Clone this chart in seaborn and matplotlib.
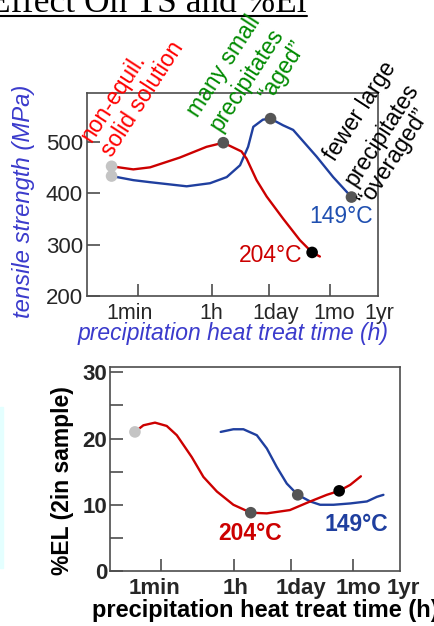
import matplotlib
matplotlib.use("Agg")
import matplotlib.pyplot as plt
import numpy as np
import pandas as pd
import seaborn as sns
from matplotlib.lines import Line2D
from matplotlib.patches import Rectangle
from matplotlib.ticker import NullLocator, FixedLocator
from matplotlib.transforms import ScaledTranslation

sns.set_theme(style="white")
plt.rcParams["font.family"] = ["Liberation Sans", "DejaVu Sans"]

W, H, DPI = 434, 626, 100

# time axis (hours)
tick_hours = [1 / 60, 1, 24, 720, 8760]
tick_names = ["1min", "1h", "1day", "1mo", "1yr"]

# tensile strength vs. ageing time
ts149_time = [0.0039, 0.013, 0.033, 0.25, 0.91, 2.3, 4.8, 7.5, 10, 17, 26, 52, 91, 333, 834, 2300]
ts149_mpa = [434, 426, 422, 414, 420, 432, 455, 491, 530, 544, 546, 533, 524, 472, 432, 393]
ts204_time = [0.0039, 0.013, 0.033, 0.17, 0.75, 1.9, 5.2, 6.9, 12, 21, 52, 132, 260, 400]
ts204_mpa = [453, 447, 451, 470, 491, 499, 482, 468, 426, 394, 351, 309, 285, 277]

ts_pt_time = [0.0039, 0.0039, 1.9, 26, 2300, 260]
ts_pt_mpa = [453, 434, 499, 546, 393, 285]
ts_pt_state = ["solution", "solution", "aged", "aged", "overaged", "end"]

# elongation vs. ageing time
el204_time = [0.0040, 0.0064, 0.0122, 0.0234, 0.041, 0.094, 0.18, 0.38, 0.95, 2.5,
              6.1, 22, 68, 171, 340, 627, 1137]
el204_pct = [21.0, 22.0, 22.4, 21.9, 20.5, 17.2, 14.2, 12.0, 10.0, 8.8,
             8.7, 9.2, 10.5, 11.5, 12.1, 13.0, 14.3]
el149_time = [0.47, 0.95, 1.66, 3.5, 6.1, 10.6, 18.5, 34, 68, 118, 248, 627, 1590, 2770, 3980]
el149_pct = [21.0, 21.4, 21.4, 20.5, 18.5, 15.7, 13.2, 11.5, 10.5, 10.0, 10.0, 10.2, 10.5, 11.2, 11.5]

el_pt_time = [0.0040, 2.5, 34, 340]
el_pt_pct = [21.0, 8.8, 11.5, 12.1]
el_pt_state = ["solution", "aged", "aged", "end"]

RED = "#cc0000"
BLUE = "#1f3f9f"
LABEL_BLUE = "#3b3bcc"
GREEN = "#008a00"
SPINE = "#4d4d4d"
state_palette = {"solution": "#c4c4c4", "aged": "#555555", "overaged": "#555555", "end": "#000000"}

fig = plt.figure(figsize=(W / DPI, H / DPI), dpi=DPI)


def px_box(left, top, right, bottom):
    return [left / W, 1 - bottom / H, (right - left) / W, (bottom - top) / H]


ax1 = fig.add_axes(px_box(87, 93, 378, 296))
ax2 = fig.add_axes(px_box(110, 367, 400, 571))

# --- tensile strength panel
ts_lines = pd.concat([
    pd.DataFrame({"time": ts149_time, "val": ts149_mpa, "temp": "149"}),
    pd.DataFrame({"time": ts204_time, "val": ts204_mpa, "temp": "204"}),
])
sns.lineplot(data=ts_lines, x="time", y="val", hue="temp", palette={"149": BLUE, "204": RED},
             lw=1.7, legend=False, ax=ax1, estimator=None, sort=False)
ts_pts = pd.DataFrame({"time": ts_pt_time, "val": ts_pt_mpa, "state": ts_pt_state})
sns.scatterplot(data=ts_pts, x="time", y="val", hue="state", palette=state_palette,
                s=70, linewidth=0, legend=False, ax=ax1, zorder=5)

# --- elongation panel
el_lines = pd.concat([
    pd.DataFrame({"time": el149_time, "val": el149_pct, "temp": "149"}),
    pd.DataFrame({"time": el204_time, "val": el204_pct, "temp": "204"}),
])
sns.lineplot(data=el_lines, x="time", y="val", hue="temp", palette={"149": BLUE, "204": RED},
             lw=1.7, legend=False, ax=ax2, estimator=None, sort=False)
el_pts = pd.DataFrame({"time": el_pt_time, "val": el_pt_pct, "state": el_pt_state})
sns.scatterplot(data=el_pts, x="time", y="val", hue="state", palette=state_palette,
                s=70, linewidth=0, legend=False, ax=ax2, zorder=5)

for ax in (ax1, ax2):
    ax.set_xscale("log")
    ax.set_xlim(1e-3, 1e4)
    ax.xaxis.set_minor_locator(NullLocator())
    ax.set_xticks(tick_hours)
    ax.set_xlabel("")
    ax.set_ylabel("")
    for sp in ax.spines.values():
        sp.set_color(SPINE)
        sp.set_linewidth(1.2)
    ax.tick_params(axis="both", which="both", direction="in", length=9, width=1.2,
                   color=SPINE, left=True, bottom=True, top=False, right=False)
    ax.xaxis.get_major_ticks()[-1].tick1line.set_visible(False)

ax1.set_ylim(200, 596)
ax1.set_yticks([200, 300, 400, 500])
ax1.set_xticklabels(tick_names, fontsize=15.5)
ax1.tick_params(axis="y", labelsize=16, pad=3)
ax1.tick_params(axis="x", pad=5)

ax2.set_ylim(0, 30.8)
ax2.set_yticks([0, 10, 20, 30])
ax2.yaxis.set_minor_locator(FixedLocator([5, 15, 25]))
ax2.set_xticklabels(tick_names, fontsize=16, fontweight="bold")
for lab in ax2.get_yticklabels():
    lab.set_fontweight("bold")
    lab.set_fontsize(16)
ax2.tick_params(axis="y", pad=2)
ax2.tick_params(axis="x", pad=5)

# nudge the time labels sideways
for ax, shifts in ((ax1, [-7.8, -0.8, 6.3, 3.3, 4.2]), (ax2, [-6.6, 0.8, 9.7, 5.5, 5.6])):
    for lab, dx in zip(ax.xaxis.get_majorticklabels(), shifts):
        lab.set_transform(lab.get_transform() + ScaledTranslation(dx / DPI, 0, fig.dpi_scale_trans))

# temperature labels
ax1.text(0.739, 0.167, "204°C", transform=ax1.transAxes, ha="right", va="baseline",
         color=RED, fontsize=16.5)
ax1.text(0.983, 0.36, "149°C", transform=ax1.transAxes, ha="right", va="baseline",
         color="#1f4fb0", fontsize=16.5)
ax2.text(0.372, 0.152, "204°C", transform=ax2.transAxes, ha="left", va="baseline",
         color=RED, fontsize=16.5, fontweight="bold")
ax2.text(0.741, 0.196, "149°C", transform=ax2.transAxes, ha="left", va="baseline",
         color=BLUE, fontsize=16.5, fontweight="bold")


def fig_xy(x, y):
    return x / W, 1 - y / H


# axis titles
fig.text(*fig_xy(24, 201), "tensile strength (MPa)", rotation=90, ha="center", va="center",
         style="italic", color=LABEL_BLUE, fontsize=17.2)
fig.text(*fig_xy(233.5, 340), "precipitation heat treat time (h)", ha="center", va="baseline",
         style="italic", color=LABEL_BLUE, fontsize=16.5)
fig.text(*fig_xy(62, 481), "%EL (2in sample)", rotation=90, ha="center", va="center",
         fontweight="bold", color="black", fontsize=16.5)
fig.text(*fig_xy(92, 617), "precipitation heat treat time (h)", ha="left", va="baseline",
         fontweight="bold", color="black", fontsize=17)


# slanted microstructure notes
def slanted(lines, anchors, color, ha, angle=57, size=16.5):
    for text, (x, y), h in zip(lines, anchors, ha):
        fig.text(*fig_xy(x, y), text, rotation=angle, rotation_mode="anchor", ha=h,
                 va="baseline", color=color, fontsize=size)


slanted(["non-equil.", "solid solution"], [(91, 143), (112, 158)], "#ff0000", ha=["left", "left"])
slanted(["many small", "precipitates", "\u201caged\u201d"], [(198, 118), (220, 132), (306, 47)],
        GREEN, ha=["left", "left", "right"])
slanted(["fewer large", "precipitates", "\u201coveraged\u201d"], [(335, 162), (355, 187), (369, 207)],
        "black", ha=["left", "left", "left"])

# slide heading
fig.text(*fig_xy(307, 12), "Effect On TS and %El", ha="right", va="baseline",
         family="Liberation Serif", fontsize=25.5, color="black")
fig.add_artist(Line2D([0, 307 / W], [1 - 15.5 / H] * 2, lw=1.5, color="black",
                      transform=fig.transFigure))
fig.add_artist(Rectangle((0, 1 - 568 / H), 3 / W, (568 - 407) / H, color="#e4ffff",
                         transform=fig.transFigure, zorder=0))

fig.savefig("out.png", dpi=DPI)
